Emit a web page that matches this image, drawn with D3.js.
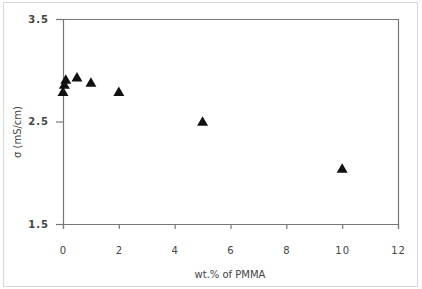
<!DOCTYPE html>
<html>
<head>
<meta charset="utf-8">
<script src="https://cdn.jsdelivr.net/npm/d3@7"></script>
<style>
  body { margin: 0; background: #fff; }
  svg text { font-family: "DejaVu Sans", sans-serif; fill: #444; }
</style>
</head>
<body>
<figure style="margin:0"></figure>
<script>
// wt.% of PMMA vs conductivity
const pmma = [0, 0.05, 0.1, 0.5, 1, 2, 5, 10];
const sigma = [2.78, 2.85, 2.9, 2.92, 2.87, 2.78, 2.49, 2.03];
const xTicks = [0, 2, 4, 6, 8, 10, 12];
const yTicks = [1.5, 2.5, 3.5];

(() => {
  const totalWidth = 422;
  const totalHeight = 289;
  const margin = {top: 19, right: 24, bottom: 65, left: 63};
  const graphWidth = totalWidth - margin.left - margin.right;
  const graphHeight = totalHeight - margin.top - margin.bottom;

  const svg = d3.select('figure').append('svg')
    .attr('width', totalWidth)
    .attr('height', totalHeight);

  // outer frame
  svg.append('rect')
    .attr('x', 3.5).attr('y', 2.5)
    .attr('width', 414).attr('height', 284)
    .attr('fill', 'none')
    .attr('stroke', '#d8d8d8');

  const g = svg.append('g')
    .attr('transform', `translate(${margin.left}, ${margin.top})`);

  const x = d3.scaleLinear().domain([0, 12]).range([0, graphWidth]);
  const y = d3.scaleLinear().domain([1.5, 3.5]).range([graphHeight, 0]);

  // plot box top + right
  g.append('path')
    .attr('d', `M0,0.5H${graphWidth + 0.5}V${graphHeight}`)
    .attr('fill', 'none')
    .attr('stroke', '#777')
    .attr('stroke-width', 1.2);

  const xAxis = g.append('g')
    .attr('transform', `translate(0, ${graphHeight})`)
    .call(d3.axisBottom(x).tickValues(xTicks).tickSize(5).tickPadding(18));

  const yAxis = g.append('g')
    .call(d3.axisLeft(y).tickValues(yTicks).tickSize(7).tickPadding(7)
      .tickFormat(d3.format('.1f')));

  [xAxis, yAxis].forEach(a => {
    a.selectAll('path, line').attr('stroke', '#777').attr('stroke-width', 1.2);
    a.selectAll('text')
      .style('font-size', '10px')
      .style('letter-spacing', '1px')
      .attr('fill', '#444');
  });
  yAxis.selectAll('text').style('font-weight', 'bold');

  const tri = d3.symbol().type(d3.symbolTriangle).size(52);
  g.selectAll('.pt')
    .data(pmma)
    .join('path')
    .attr('class', 'pt')
    .attr('d', tri)
    .attr('transform', (d, i) => `translate(${x(d)}, ${y(sigma[i])})`)
    .attr('fill', '#111');

  svg.append('text')
    .attr('x', 230)
    .attr('y', 278)
    .attr('text-anchor', 'middle')
    .style('font-size', '10px')
    .text('wt.% of PMMA');

  svg.append('text')
    .attr('transform', 'translate(21, 132) rotate(-90)')
    .attr('text-anchor', 'middle')
    .style('font-size', '10px')
    .text('σ (mS/cm)');
})();
</script>
</body>
</html>
